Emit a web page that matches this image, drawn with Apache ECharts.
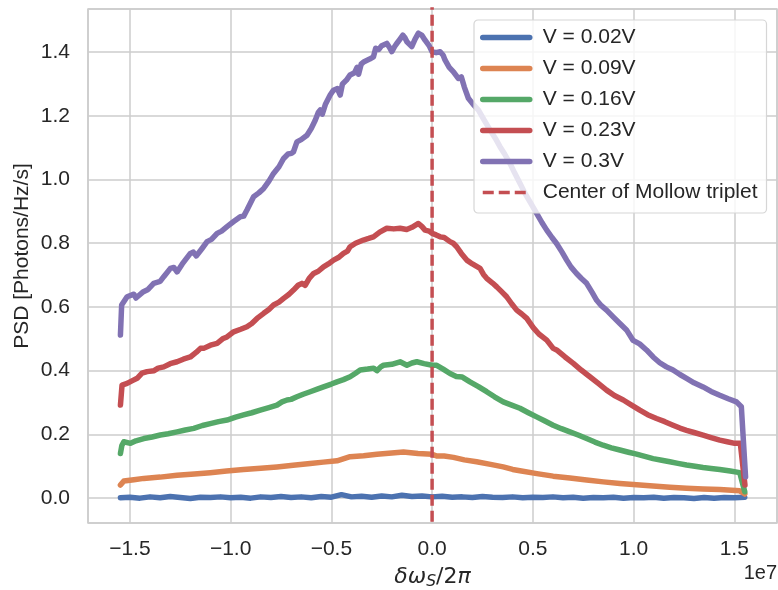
<!DOCTYPE html>
<html>
<head>
<meta charset="utf-8">
<script src="https://cdn.jsdelivr.net/npm/echarts@6/dist/echarts.min.js"></script>
<style>
html,body{margin:0;padding:0;background:#fff;}
#chart{width:778px;height:590px;}
</style>
</head>
<body>
<div id="chart"></div>
<script>
// x values are in units of 1e7 (axis offset label "1e7")
const seriesNames = ['V = 0.02V', 'V = 0.09V', 'V = 0.16V', 'V = 0.23V', 'V = 0.3V'];
const centerName = 'Center of Mollow triplet';
const centerX = [0];

const xBlue = [-1.547,-1.500,-1.450,-1.400,-1.350,-1.300,-1.250,-1.200,-1.150,-1.100,-1.050,-1.000,-0.950,-0.900,-0.850,-0.800,-0.750,-0.700,-0.650,-0.600,-0.550,-0.500,-0.450,-0.400,-0.350,-0.300,-0.250,-0.200,-0.150,-0.100,-0.050,0.000,0.050,0.100,0.150,0.200,0.250,0.300,0.350,0.400,0.450,0.500,0.550,0.600,0.650,0.700,0.750,0.800,0.850,0.900,0.950,1.000,1.050,1.100,1.150,1.200,1.250,1.300,1.350,1.400,1.450,1.500,1.552];
const yBlue = [0.001,0.003,0.000,0.004,0.001,0.005,0.002,-0.001,0.003,0.002,0.004,0.001,0.003,0.000,0.004,0.002,0.005,0.002,0.004,0.001,0.005,0.003,0.011,0.004,0.006,0.003,0.007,0.004,0.009,0.005,0.007,0.004,0.006,0.003,0.004,0.002,0.005,0.003,0.002,0.004,0.001,0.003,0.002,0.004,0.001,0.003,0.000,0.002,0.001,0.003,0.000,0.002,0.001,0.003,0.000,0.002,0.001,-0.001,0.002,0.000,0.002,0.001,0.003];

const xOrange = [-1.547,-1.530,-1.480,-1.431,-1.350,-1.266,-1.180,-1.101,-1.020,-0.936,-0.850,-0.770,-0.690,-0.605,-0.540,-0.472,-0.407,-0.340,-0.274,-0.200,-0.142,-0.070,0.000,0.023,0.060,0.106,0.160,0.221,0.290,0.353,0.400,0.436,0.520,0.601,0.684,0.767,0.850,0.932,1.015,1.097,1.180,1.263,1.345,1.428,1.527,1.552];
const yOrange = [0.041,0.054,0.058,0.062,0.066,0.072,0.076,0.080,0.085,0.090,0.094,0.098,0.103,0.109,0.113,0.117,0.130,0.133,0.138,0.142,0.145,0.140,0.138,0.132,0.132,0.128,0.120,0.114,0.106,0.098,0.090,0.086,0.077,0.069,0.063,0.057,0.051,0.046,0.042,0.038,0.034,0.031,0.029,0.027,0.023,0.013];

const xGreen = [-1.547,-1.540,-1.530,-1.497,-1.470,-1.431,-1.390,-1.349,-1.310,-1.266,-1.225,-1.183,-1.140,-1.101,-1.060,-1.018,-0.975,-0.936,-0.895,-0.853,-0.810,-0.770,-0.745,-0.720,-0.700,-0.671,-0.640,-0.605,-0.570,-0.539,-0.500,-0.472,-0.440,-0.407,-0.380,-0.357,-0.320,-0.290,-0.274,-0.255,-0.241,-0.200,-0.159,-0.125,-0.100,-0.076,-0.040,0.000,0.023,0.055,0.089,0.120,0.150,0.188,0.230,0.271,0.310,0.353,0.395,0.436,0.478,0.519,0.560,0.601,0.642,0.684,0.725,0.767,0.808,0.849,0.890,0.932,0.975,1.015,1.056,1.097,1.140,1.180,1.220,1.263,1.305,1.345,1.385,1.428,1.480,1.527,1.552];
const yGreen = [0.140,0.165,0.177,0.172,0.180,0.187,0.192,0.198,0.202,0.208,0.214,0.219,0.228,0.234,0.240,0.245,0.254,0.261,0.268,0.276,0.284,0.292,0.302,0.308,0.310,0.318,0.326,0.334,0.342,0.349,0.358,0.365,0.372,0.381,0.392,0.402,0.405,0.408,0.400,0.412,0.417,0.420,0.428,0.417,0.424,0.428,0.422,0.417,0.417,0.405,0.391,0.382,0.380,0.365,0.350,0.334,0.318,0.302,0.292,0.282,0.268,0.255,0.242,0.229,0.218,0.208,0.198,0.187,0.176,0.166,0.158,0.151,0.144,0.138,0.131,0.124,0.119,0.114,0.109,0.104,0.100,0.096,0.093,0.090,0.085,0.080,0.020];

const xRed = [-1.547,-1.539,-1.514,-1.490,-1.464,-1.440,-1.415,-1.380,-1.360,-1.332,-1.300,-1.266,-1.235,-1.200,-1.170,-1.150,-1.134,-1.100,-1.067,-1.040,-1.018,-0.985,-0.950,-0.919,-0.895,-0.869,-0.836,-0.810,-0.787,-0.760,-0.737,-0.710,-0.688,-0.665,-0.646,-0.630,-0.610,-0.588,-0.565,-0.539,-0.515,-0.489,-0.465,-0.440,-0.420,-0.407,-0.380,-0.341,-0.315,-0.291,-0.260,-0.225,-0.190,-0.159,-0.126,-0.100,-0.068,-0.050,-0.035,-0.015,0.000,0.020,0.040,0.060,0.089,0.105,0.122,0.145,0.172,0.200,0.238,0.255,0.271,0.300,0.321,0.345,0.370,0.395,0.420,0.445,0.470,0.502,0.530,0.569,0.601,0.618,0.660,0.701,0.740,0.783,0.825,0.866,0.905,0.949,0.990,1.031,1.070,1.114,1.155,1.196,1.230,1.263,1.300,1.345,1.385,1.428,1.465,1.502,1.530,1.553];
const yRed = [0.292,0.355,0.360,0.368,0.376,0.392,0.397,0.400,0.408,0.412,0.422,0.428,0.436,0.443,0.458,0.470,0.470,0.480,0.486,0.500,0.506,0.522,0.530,0.538,0.548,0.564,0.580,0.592,0.606,0.615,0.627,0.640,0.653,0.668,0.674,0.668,0.690,0.705,0.712,0.726,0.735,0.747,0.755,0.768,0.775,0.789,0.800,0.810,0.815,0.820,0.835,0.847,0.845,0.847,0.843,0.850,0.862,0.852,0.841,0.838,0.831,0.826,0.820,0.818,0.805,0.800,0.789,0.768,0.747,0.735,0.721,0.702,0.690,0.675,0.663,0.648,0.632,0.610,0.590,0.578,0.564,0.535,0.515,0.496,0.470,0.465,0.443,0.423,0.402,0.381,0.360,0.339,0.322,0.308,0.292,0.276,0.262,0.250,0.240,0.229,0.220,0.213,0.206,0.198,0.190,0.182,0.177,0.172,0.172,0.041];

const xPurple = [-1.547,-1.541,-1.514,-1.480,-1.470,-1.433,-1.410,-1.382,-1.350,-1.332,-1.299,-1.282,-1.266,-1.240,-1.200,-1.185,-1.170,-1.140,-1.117,-1.095,-1.067,-1.045,-1.018,-0.985,-0.952,-0.935,-0.919,-0.886,-0.860,-0.836,-0.810,-0.787,-0.760,-0.737,-0.715,-0.698,-0.688,-0.671,-0.650,-0.621,-0.600,-0.580,-0.565,-0.555,-0.545,-0.530,-0.506,-0.490,-0.470,-0.456,-0.445,-0.425,-0.407,-0.385,-0.372,-0.365,-0.352,-0.340,-0.310,-0.291,-0.280,-0.265,-0.250,-0.225,-0.212,-0.200,-0.185,-0.175,-0.160,-0.145,-0.135,-0.125,-0.101,-0.085,-0.068,-0.050,-0.035,-0.015,0.000,0.020,0.040,0.055,0.064,0.085,0.106,0.130,0.145,0.160,0.180,0.205,0.230,0.260,0.288,0.315,0.337,0.360,0.387,0.410,0.436,0.460,0.486,0.519,0.545,0.569,0.595,0.618,0.645,0.668,0.690,0.717,0.740,0.767,0.795,0.817,0.840,0.866,0.900,0.932,0.965,0.998,1.030,1.064,1.097,1.130,1.163,1.196,1.230,1.263,1.300,1.345,1.385,1.428,1.470,1.511,1.535,1.556];
const yPurple = [0.512,0.606,0.632,0.640,0.628,0.648,0.655,0.674,0.680,0.695,0.721,0.724,0.710,0.735,0.768,0.772,0.760,0.785,0.805,0.812,0.831,0.838,0.852,0.868,0.883,0.885,0.904,0.946,0.958,0.972,0.995,1.019,1.040,1.066,1.080,1.082,1.087,1.118,1.125,1.139,1.160,1.186,1.210,1.218,1.205,1.235,1.265,1.280,1.285,1.265,1.300,1.312,1.328,1.335,1.352,1.330,1.362,1.369,1.378,1.385,1.412,1.408,1.420,1.427,1.415,1.401,1.418,1.427,1.440,1.453,1.445,1.432,1.417,1.440,1.459,1.452,1.437,1.420,1.401,1.398,1.401,1.390,1.375,1.352,1.338,1.317,1.322,1.290,1.255,1.235,1.218,1.185,1.155,1.128,1.103,1.080,1.050,1.020,0.988,0.958,0.930,0.894,0.865,0.841,0.818,0.799,0.772,0.747,0.725,0.705,0.690,0.674,0.645,0.621,0.604,0.590,0.568,0.548,0.528,0.495,0.484,0.465,0.443,0.425,0.412,0.402,0.388,0.376,0.362,0.349,0.335,0.323,0.312,0.302,0.287,0.067];

const colors = ['#4C72B0', '#DD8452', '#55A868', '#C44E52', '#8172B3'];
const centerColor = '#C44E52';

const xExtent = [-1.708, 1.712];
const yExtent = [-0.078, 1.535];

function pairs(xs, ys) { return xs.map((x, i) => [x, ys[i]]); }
const allX = [xBlue, xOrange, xGreen, xRed, xPurple];
const allY = [yBlue, yOrange, yGreen, yRed, yPurple];

const FONT = "'Liberation Sans', Arial, Helvetica, sans-serif";
const TXT = '#262626';

const series = seriesNames.map((name, i) => ({
  name: name,
  type: 'line',
  data: pairs(allX[i], allY[i]),
  showSymbol: false,
  symbol: 'none',
  lineStyle: { color: colors[i], width: 5.5, cap: 'round', join: 'round' },
  itemStyle: { color: colors[i] },
  z: 2 + i * 0.01,
  animation: false
}));
series.push({
  name: centerName,
  type: 'line',
  data: [[centerX[0], yExtent[0] - 1], [centerX[0], yExtent[1] + 1]],
  showSymbol: false,
  symbol: 'none',
  lineStyle: { color: centerColor, width: 3.5, type: [11, 5] },
  itemStyle: { color: centerColor },
  z: 3,
  animation: false
});

const chart = echarts.init(document.getElementById('chart'), null, { renderer: 'canvas' });
chart.setOption({
  animation: false,
  backgroundColor: '#ffffff',
  textStyle: { fontFamily: FONT },
  grid: { left: 88, right: 1, top: 9, bottom: 67, show: true, borderColor: '#cccccc', borderWidth: 1.5, backgroundColor: 'transparent', containLabel: false, outerBoundsMode: 'none' },
  xAxis: {
    type: 'value',
    min: xExtent[0], max: xExtent[1],
    splitNumber: 7,
    axisLine: { show: false },
    axisTick: { show: false },
    splitLine: { show: true, lineStyle: { color: '#cccccc', width: 1.5 } },
    axisLabel: {
      showMinLabel: false, showMaxLabel: false,
      color: TXT, fontSize: 21, fontFamily: FONT, margin: 16,
      formatter: v => (v < 0 ? '\u2212' + Math.abs(v).toFixed(1) : v.toFixed(1))
    },
    name: '{a|δω}{s|S}{b|/2}{a|π}',
    nameLocation: 'middle',
    nameGap: 41,
    nameTextStyle: {
      color: TXT,
      rich: {
        a: { fontSize: 22, fontStyle: 'italic', fontFamily: "'DejaVu Sans', sans-serif", color: TXT },
        b: { fontSize: 22, fontFamily: "'DejaVu Sans', sans-serif", color: TXT },
        s: { fontSize: 15.5, fontStyle: 'italic', fontFamily: "'DejaVu Sans', sans-serif", color: TXT, padding: [10, 0, 0, 0] }
      }
    }
  },
  yAxis: {
    type: 'value',
    min: yExtent[0], max: yExtent[1],
    splitNumber: 8,
    axisLine: { show: false },
    axisTick: { show: false },
    splitLine: { show: true, lineStyle: { color: '#cccccc', width: 1.5 } },
    axisLabel: {
      showMinLabel: false, showMaxLabel: false,
      color: TXT, fontSize: 21, fontFamily: FONT, margin: 18,
      formatter: v => v.toFixed(1)
    }
  },
  legend: {
    show: true,
    orient: 'vertical',
    left: 474, top: 20,
    padding: [7, 9, 10, 6],
    itemWidth: 47, itemHeight: 14, itemGap: 10,
    backgroundColor: 'rgba(255,255,255,0.8)',
    borderColor: '#d6d6d6', borderWidth: 1.2, borderRadius: 4,
    data: seriesNames.concat([centerName]),
    itemStyle: { opacity: 0 },
    lineStyle: { width: 'inherit' },
    textStyle: { color: TXT, fontSize: 21, fontFamily: FONT, lineHeight: 20, padding: [0, 0, 0, 8] },
    z: 10
  },
  graphic: [
    {
      type: 'text', x: 22, y: 256, rotation: Math.PI / 2,
      style: { text: 'PSD [Photons/Hz/s]', fill: TXT, font: "21px 'Liberation Sans', Arial, sans-serif", textAlign: 'center', textVerticalAlign: 'middle' }
    },
    {
      type: 'text', right: 1, top: 563,
      style: { text: '1e7', fill: TXT, font: "20px 'Liberation Sans', Arial, sans-serif" }
    }
  ],
  series: series
});
</script>
</body>
</html>
